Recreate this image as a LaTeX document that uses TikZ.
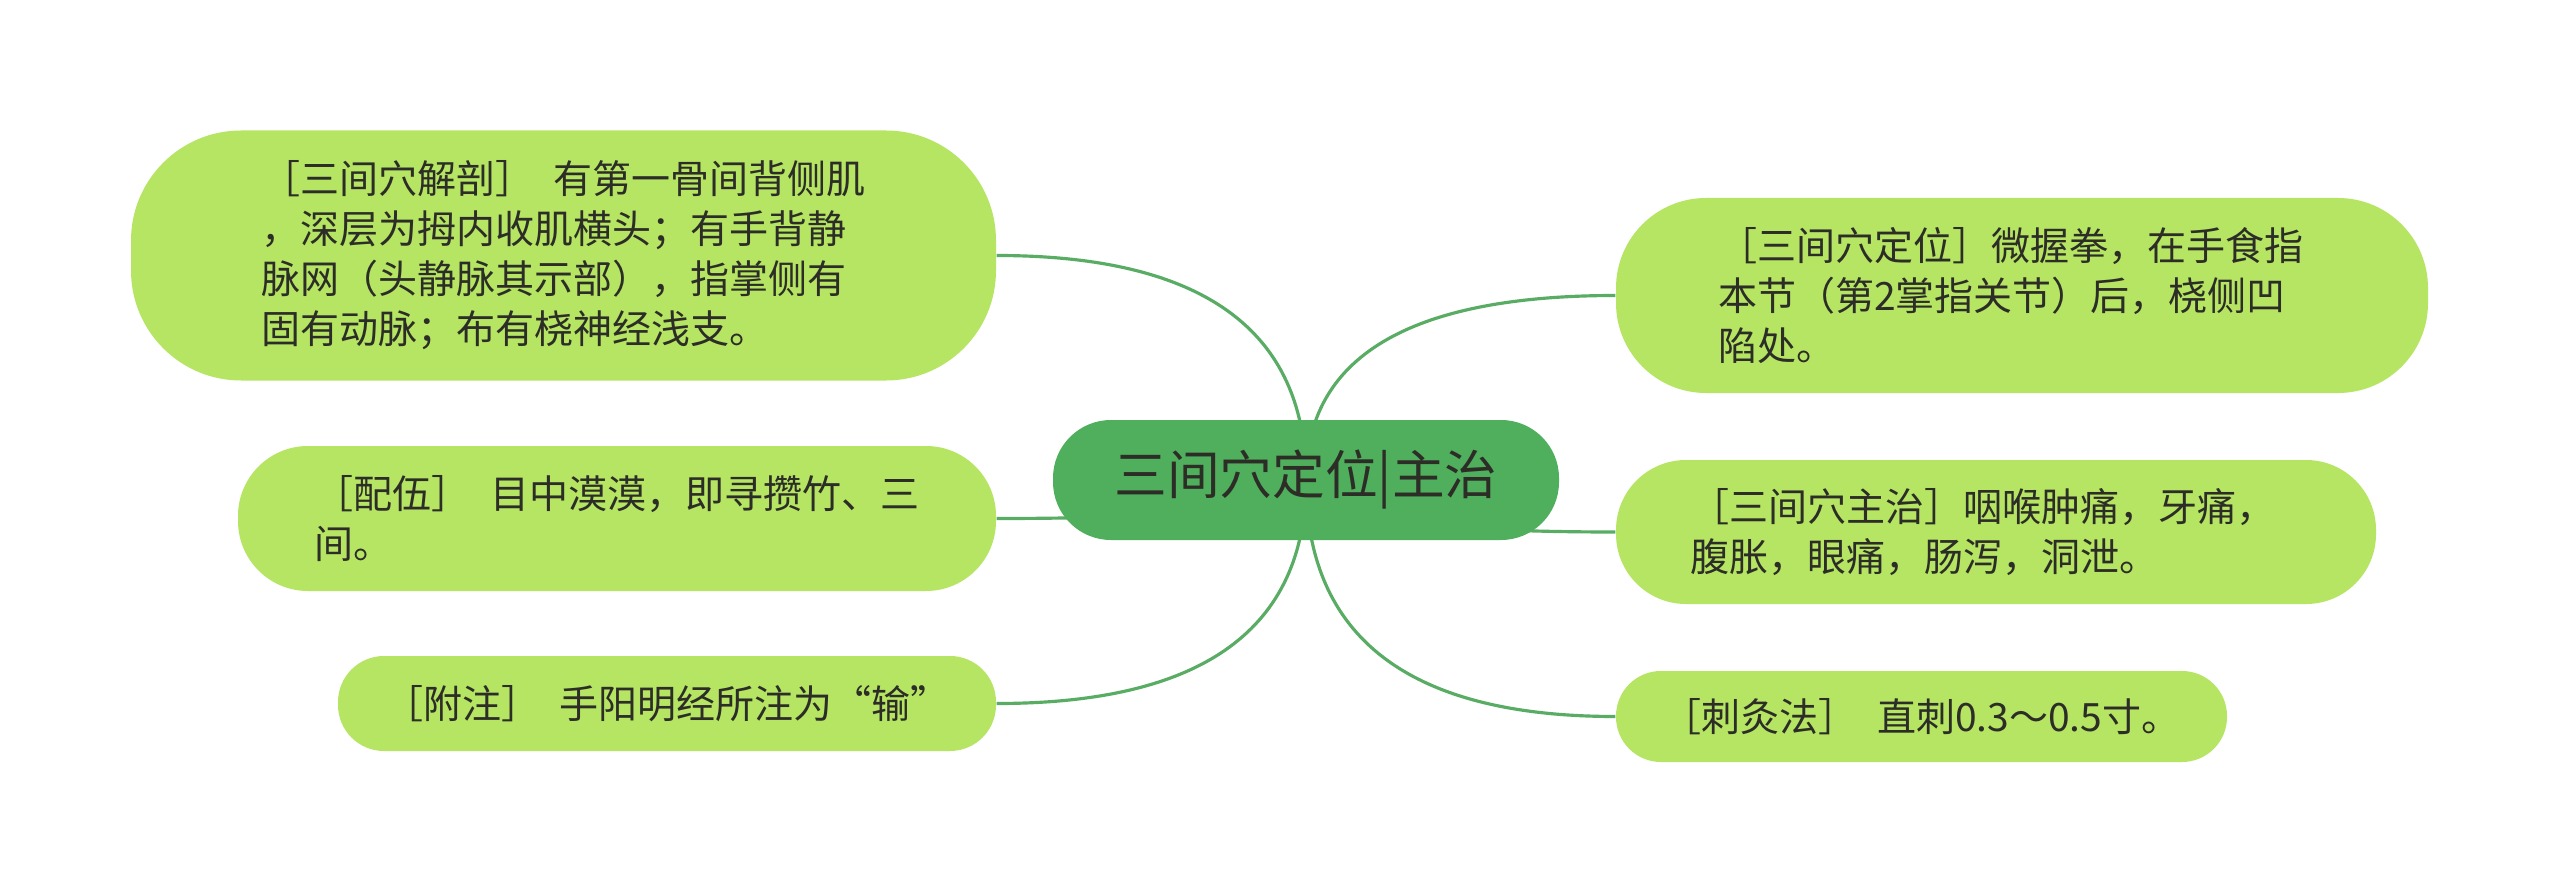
\documentclass[tikz,border=0pt]{standalone}
\usepackage{fontspec}
\setmainfont{Noto Sans CJK SC}
\usetikzlibrary{backgrounds, calc}
\definecolor{rootgreen}{RGB}{80,175,92}
\definecolor{leafgreen}{RGB}{181,229,99}
\definecolor{linkgreen}{RGB}{88,172,100}
\definecolor{ink}{RGB}{45,45,40}

\begin{document}
\begin{tikzpicture}
[x=1cm, y=-1cm, font=\fontsize{11.1pt}{14.2pt}\selectfont, text=ink,
root/.style={rectangle, fill=rootgreen, rounded corners=0.58cm, inner sep=0pt, minimum width=5.06cm, minimum height=1.20cm, font=\fontsize{15pt}{18pt}\selectfont},
leaf/.style={rectangle, fill=leafgreen, align=left, inner sep=0pt},
link/.style={draw=linkgreen, line width=0.9pt}]

\useasboundingbox (0,0) rectangle (25.6,8.95);

\node[root] (root) at (13.06,4.80) {三间穴定位|主治};

\node[leaf, minimum width=8.65cm, minimum height=2.50cm, rounded corners=1.1cm] (anatomy) at (5.635,2.555)
  {［三间穴解剖］\hspace{0.5em}有第一骨间背侧肌\\，深层为拇内收肌横头；有手背静\\脉网（头静脉其示部），指掌侧有\\固有动脉；布有桡神经浅支。};
\node[leaf, minimum width=7.58cm, minimum height=1.45cm, rounded corners=0.7cm] (pairing) at (6.17,5.185)
  {［配伍］\hspace{0.5em}目中漠漠，即寻攒竹、三\\间。};
\node[leaf, minimum width=6.58cm, minimum height=0.95cm, rounded corners=0.46cm] (note) at (6.67,7.035)
  {［附注］\hspace{0.5em}手阳明经所注为“输”};

\node[leaf, minimum width=8.12cm, minimum height=1.95cm, rounded corners=0.9cm, text width=6.08cm] (locate) at (20.22,2.955)
  {［三间穴定位］微握拳，在手食指\\本节（第2掌指关节）后，桡侧凹\\陷处。};
\node[leaf, minimum width=7.60cm, minimum height=1.44cm, rounded corners=0.7cm, text width=6.12cm] (treat) at (19.96,5.32)
  {［三间穴主治］咽喉肿痛，牙痛，\\腹胀，眼痛，肠泻，洞泄。};
\node[leaf, minimum width=6.11cm, minimum height=0.91cm, rounded corners=0.45cm] (needle) at (19.215,7.165)
  {［刺灸法］\hspace{0.5em}直刺0.3～0.5寸。};

\begin{pgfonlayer}{background}
\fill[white] (0,0) rectangle (25.6,8.95);
\foreach \n in {anatomy, pairing, note}
  \draw[link] (root.center) .. controls ($(root.center)!2/3!(root.center |- \n.east)$)
    and ($(\n.east)!2/3!(root.center |- \n.east)$) .. (\n.east);
\foreach \n in {locate, treat, needle}
  \draw[link] (root.center) .. controls ($(root.center)!2/3!(root.center |- \n.west)$)
    and ($(\n.west)!2/3!(root.center |- \n.west)$) .. (\n.west);
\end{pgfonlayer}
\end{tikzpicture}
\end{document}
